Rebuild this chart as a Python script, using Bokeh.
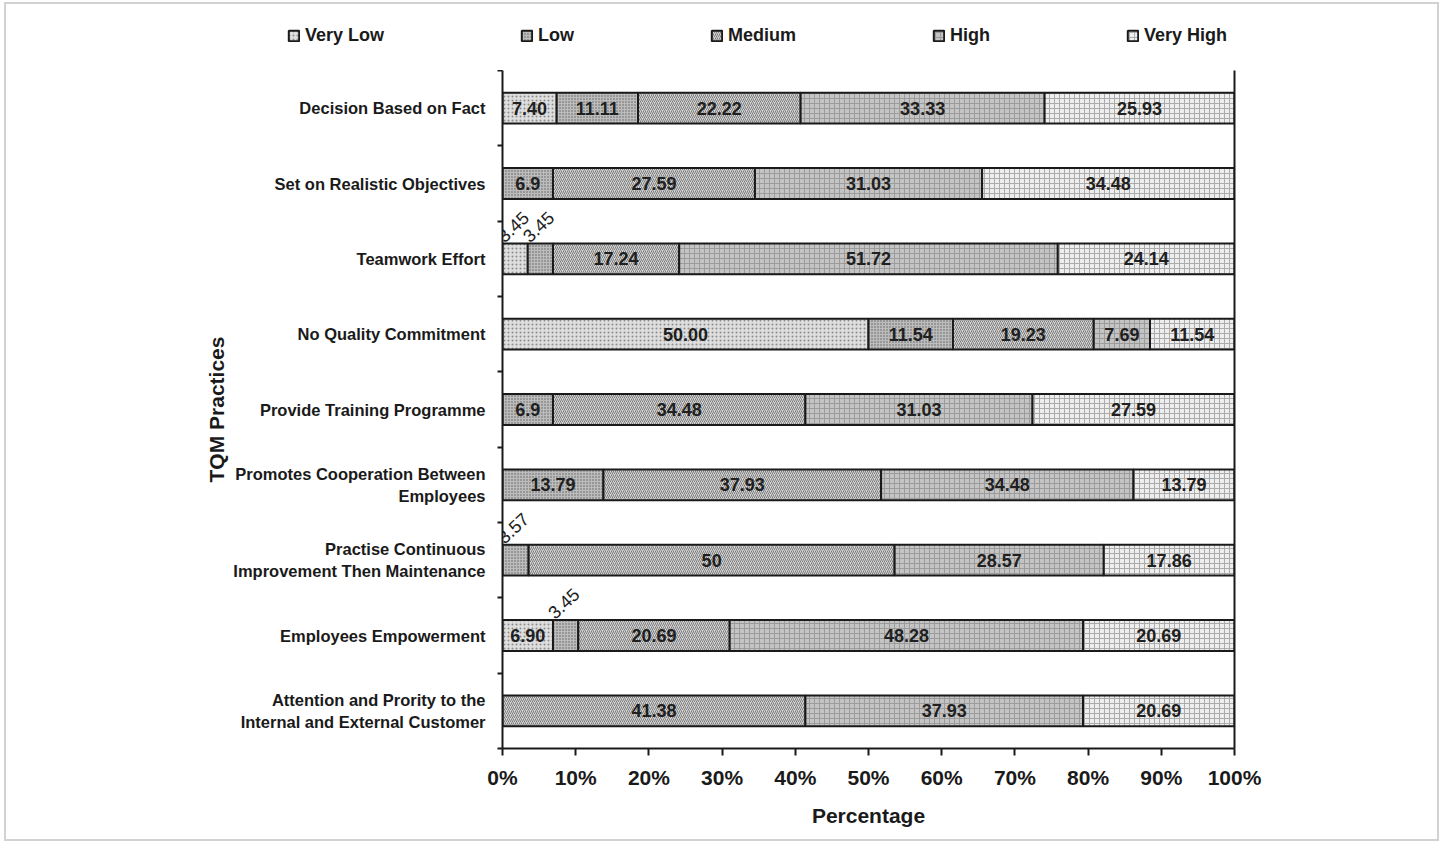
from bokeh.plotting import figure
from bokeh.layouts import column
from bokeh.models import (ColumnDataSource, FixedTicker, LinearAxis, Range1d,
                          Legend, LegendItem, PrintfTickFormatter)
from bokeh.embed import file_html
from bokeh.resources import INLINE
from bokeh.core.properties import value

# ---------------- data ----------------
practices = [
    "Decision Based on Fact",
    "Set on Realistic Objectives",
    "Teamwork Effort",
    "No Quality Commitment",
    "Provide Training Programme",
    "Promotes Cooperation Between\nEmployees",
    "Practise Continuous\nImprovement Then Maintenance",
    "Employees Empowerment",
    "Attention and Prority to the\nInternal and External Customer",
]
levels = ["Very Low", "Low", "Medium", "High", "Very High"]

very_low = ["7.40", "", "3.45", "50.00", "", "", "", "6.90", ""]
low = ["11.11", "6.9", "3.45", "11.54", "6.9", "13.79", "3.57", "3.45", ""]
medium = ["22.22", "27.59", "17.24", "19.23", "34.48", "37.93", "50", "20.69", "41.38"]
high = ["33.33", "31.03", "51.72", "7.69", "31.03", "34.48", "28.57", "48.28", "37.93"]
very_high = ["25.93", "34.48", "24.14", "11.54", "27.59", "13.79", "17.86", "20.69", "20.69"]
series = [very_low, low, medium, high, very_high]

x_ticks = list(range(0, 101, 10))

# ---------------- styles ----------------
fills = ["#dedede", "#bcbcbc", "#d4d4d4", "#c4c4c4", "#eeeeee"]
hatches = ["dot", "dot", "right_diagonal_line", "cross", "cross"]
hatch_colors = ["#8c8c8c", "#5e5e5e", "#7c7c7c", "#9c9c9c", "#ababab"]
hatch_scales = [4, 3, 4, 5, 5]
FONT = "Liberation Sans"
BAR_H = 0.41
SMALL = 5.0
W = 1431
NAN = float("nan")

n = len(practices)
p = figure(frame_width=732, frame_height=678,
           min_border_left=496, min_border_right=W - 496 - 732,
           min_border_top=0, min_border_bottom=91,
           x_range=Range1d(0, 100), y_range=Range1d(n, 0),
           output_backend="svg", toolbar_location=None,
           background_fill_color="white", border_fill_color="white")
p.outline_line_color = None
p.grid.visible = False

def bar_style(k):
    return dict(fill_color=fills[k], line_color="#1a1a1a", line_width=2,
                hatch_pattern=hatches[k], hatch_color=hatch_colors[k],
                hatch_scale=hatch_scales[k], hatch_weight=1)

cum = [0.0] * n
in_txt = {"x": [], "y": [], "t": []}
rot_txt = {"x": [], "y": [], "t": []}
for k, (lvl, vals) in enumerate(zip(levels, series)):
    ys, lefts, rights = [], [], []
    for i, s in enumerate(vals):
        v = float(s) if s else 0.0
        if v > 0:
            ys.append(i + 0.5)
            lefts.append(cum[i])
            rights.append(cum[i] + v)
            if v >= SMALL:
                in_txt["x"].append(cum[i] + v / 2)
                in_txt["y"].append(i + 0.5)
                in_txt["t"].append(s)
            else:
                rot_txt["x"].append(cum[i] + 0.3)
                rot_txt["y"].append(i + 0.5 - BAR_H / 2)
                rot_txt["t"].append(s)
        cum[i] += v
    src = ColumnDataSource(dict(y=ys, left=lefts, right=rights))
    p.hbar(y="y", left="left", right="right", height=BAR_H, source=src, **bar_style(k))

p.text(x="x", y="y", text="t", source=ColumnDataSource(in_txt),
       text_align="center", text_baseline="middle",
       text_font=value(FONT), text_font_style="bold",
       text_font_size="18px", text_color="#202020")
p.text(x="x", y="y", text="t", source=ColumnDataSource(rot_txt),
       angle=0.75, text_align="left", text_baseline="bottom",
       text_font=value(FONT), text_font_style="normal",
       text_font_size="18px", text_color="#202020")

# ---------------- axes ----------------
xa = p.xaxis[0]
xa.ticker = FixedTicker(ticks=x_ticks)
xa.formatter = PrintfTickFormatter(format="%d%%")
xa.major_tick_out = 7
xa.major_tick_in = 0
xa.minor_tick_line_color = None
xa.axis_line_width = 2
xa.axis_line_color = "#1a1a1a"
xa.major_tick_line_width = 2
xa.major_tick_line_color = "#1a1a1a"
xa.major_label_standoff = 10
xa.major_label_text_font = FONT
xa.major_label_text_font_style = "bold"
xa.major_label_text_font_size = "21px"
xa.major_label_text_color = "#1a1a1a"
xa.axis_label = "Percentage"
xa.axis_label_text_font = FONT
xa.axis_label_text_font_style = "bold"
xa.axis_label_text_font_size = "21px"
xa.axis_label_text_color = "#1a1a1a"
xa.axis_label_standoff = 12

centers = [i + 0.5 for i in range(n)]
ya = p.yaxis[0]
ya.ticker = FixedTicker(ticks=centers, minor_ticks=list(range(0, n + 1)))
ya.major_label_overrides = {c: lab for c, lab in zip(centers, practices)}
ya.major_tick_out = 0
ya.major_tick_in = 0
ya.minor_tick_out = 5
ya.minor_tick_in = 0
ya.minor_tick_line_width = 2
ya.minor_tick_line_color = "#1a1a1a"
ya.axis_line_width = 2
ya.axis_line_color = "#1a1a1a"
ya.major_label_standoff = 12
ya.major_label_text_font = FONT
ya.major_label_text_font_style = "bold"
ya.major_label_text_font_size = "16.5px"
ya.major_label_text_color = "#1a1a1a"
ya.axis_label = "TQM Practices"
ya.axis_label_text_font = FONT
ya.axis_label_text_font_style = "bold"
ya.axis_label_text_font_size = "21px"
ya.axis_label_text_color = "#1a1a1a"
ya.axis_label_standoff = 2

ra = LinearAxis(ticker=FixedTicker(ticks=[]), axis_line_width=2,
                axis_line_color="#1a1a1a", major_label_text_font_size="0px",
                major_tick_line_color=None, minor_tick_line_color=None)
p.add_layout(ra, "right")

# ---------------- legend (own strip above the chart) ----------------
lg = figure(frame_width=W, frame_height=66, min_border=0,
            x_range=Range1d(0, 1), y_range=Range1d(0, 1),
            output_backend="svg", toolbar_location=None,
            background_fill_color="white", border_fill_color="white")
lg.axis.visible = False
lg.grid.visible = False
lg.outline_line_color = None
items = []
for k, lvl in enumerate(levels):
    # swatch-only renderer: a single undefined row, so no bar is drawn
    r = lg.hbar(y=[NAN], left=[NAN], right=[NAN], height=BAR_H, **bar_style(k))
    items.append(LegendItem(label=lvl, renderers=[r]))
legend = Legend(items=items, orientation="horizontal", location=(281, 24),
                spacing=136, padding=0, margin=0, border_line_color=None,
                background_fill_alpha=0, glyph_width=13, glyph_height=13,
                label_standoff=5, label_text_font=FONT,
                label_text_font_style="bold", label_text_font_size="18px",
                label_text_color="#1a1a1a")
lg.add_layout(legend, "center")

page = column(lg, p, spacing=0,
              styles={"border": "2px solid #d2d2d2", "margin": "2px 0 0 4px"})

open("out.html", "w").write(file_html(page, INLINE))
